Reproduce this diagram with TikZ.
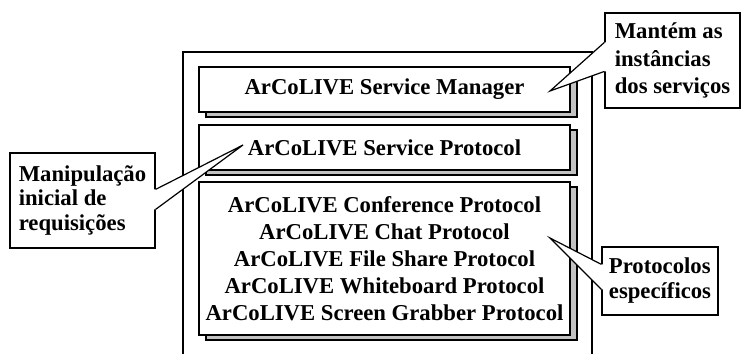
\documentclass[tikz,border=0pt]{standalone}
\usepackage{fontspec}
\setmainfont{Liberation Serif}
\usetikzlibrary{shadows,calc}
\tikzset{
  layerbox/.style={draw, fill=white, line width=1.2pt, minimum width=371pt, inner sep=0pt,
    align=center, font=\bfseries\fontsize{22.7}{27}\selectfont,
    general shadow={fill=black!24, draw=black, line width=1.2pt, shadow xshift=7pt, shadow yshift=-5pt}},
  note/.style={draw, fill=white, line width=1.2pt, inner sep=0pt, align=left},
  frame/.style={draw, line width=1.4pt},
  wedgeline/.style={line width=1.2pt, line join=miter},
}
\begin{document}
\begin{tikzpicture}[x=1pt,y=-1pt]
\useasboundingbox (0,0) rectangle (741,354);
% outer frame (open at the bottom)
\coordinate (fbl) at (183,354);
\coordinate (ftl) at (183,52);
\coordinate (ftr) at (592,52);
\coordinate (fbr) at (592,354);
\draw[frame] (fbl) -- (ftl) -- (ftr) -- (fbr);
% layers
\node[layerbox, minimum height=45pt] (mgr) at (384.5,89.5) {ArCoLIVE Service Manager};
\node[layerbox, minimum height=45pt] (svc) at (384.5,147.5) {ArCoLIVE Service Protocol};
\node[layerbox, minimum height=153pt] (prot) at (384.5,258.5) {ArCoLIVE Conference Protocol\\ArCoLIVE Chat Protocol\\ArCoLIVE File Share Protocol\\ArCoLIVE Whiteboard Protocol\\ArCoLIVE Screen Grabber Protocol};
% notes
\node[note, minimum width=145pt, minimum height=95pt, font=\bfseries\fontsize{22.7}{24.5}\selectfont] (req) at (82.5,200.5) {Manipulação\\inicial de\\requisições};
\node[note, minimum width=135pt, minimum height=95pt, font=\bfseries\fontsize{22.7}{27.5}\selectfont] (inst) at (672.5,60.5) {Mantém as\\instâncias\\dos serviços};
\node[note, minimum width=116pt, minimum height=68pt, font=\bfseries\fontsize{22.7}{25}\selectfont] (spec) at (660,281) {Protocolos\\específicos};
% callout tips
\coordinate (tipreq) at (243,145);
\coordinate (tipinst) at (550,91);
\coordinate (tipspec) at (550,238);
% callout wedges
\coordinate (ra) at ($(req.north east)+(0,37)$);
\coordinate (rb) at ($(req.north east)+(0,57)$);
\fill[white] ($(ra)+(-1.5,0)$) -- (ra) -- (tipreq) -- (rb) -- ($(rb)+(-1.5,0)$) -- cycle;
\draw[wedgeline] (ra) -- (tipreq) -- (rb);
\coordinate (ia) at ($(inst.north west)+(0,30)$);
\coordinate (ib) at ($(inst.north west)+(0,59)$);
\fill[white] ($(ia)+(1.5,0)$) -- (ia) -- (tipinst) -- (ib) -- ($(ib)+(1.5,0)$) -- cycle;
\draw[wedgeline] (ia) -- (tipinst) -- (ib);
\coordinate (sa) at ($(spec.north west)+(0,18)$);
\coordinate (sb) at ($(spec.north west)+(0,43)$);
\fill[white] ($(sa)+(1.5,0)$) -- (sa) -- (tipspec) -- (sb) -- ($(sb)+(1.5,0)$) -- cycle;
\draw[wedgeline] (sa) -- (tipspec) -- (sb);
\end{tikzpicture}
\end{document}
